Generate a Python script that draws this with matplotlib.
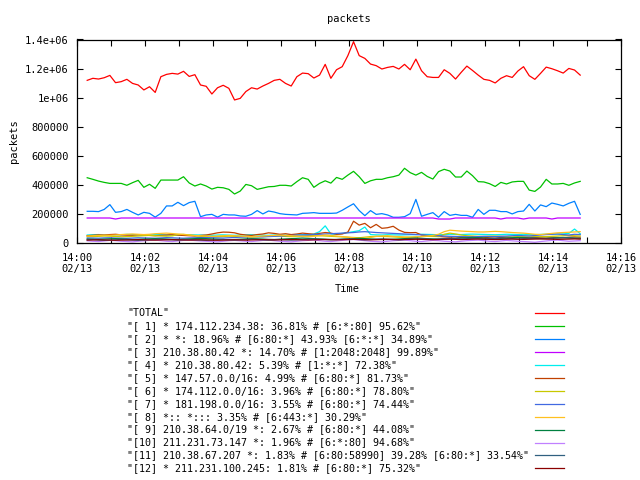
import matplotlib
matplotlib.use("Agg")
import matplotlib.pyplot as plt
import matplotlib.dates as mdates
from matplotlib.lines import Line2D
from matplotlib.ticker import FuncFormatter, MultipleLocator
import pandas as pd

plt.rcParams['font.family'] = ['DejaVu Sans Mono']

# sample times: every 10 s starting 14:00:18
times = pd.date_range("2000-02-13 14:00:18", periods=88, freq="10s")

labels = [
    '"TOTAL"',
    '"[ 1] * 174.112.234.38: 36.81% # [6:*:80] 95.62%"',
    '"[ 2] * *: 18.96% # [6:80:*] 43.93% [6:*:*] 34.89%"',
    '"[ 3] 210.38.80.42 *: 14.70% # [1:2048:2048] 99.89%"',
    '"[ 4] * 210.38.80.42: 5.39% # [1:*:*] 72.38%"',
    '"[ 5] * 147.57.0.0/16: 4.99% # [6:80:*] 81.73%"',
    '"[ 6] * 174.112.0.0/16: 3.96% # [6:80:*] 78.80%"',
    '"[ 7] * 181.198.0.0/16: 3.55% # [6:80:*] 74.44%"',
    '"[ 8] *:: *::: 3.35% # [6:443:*] 30.29%"',
    '"[ 9] 210.38.64.0/19 *: 2.67% # [6:80:*] 44.08%"',
    '"[10] 211.231.73.147 *: 1.96% # [6:*:80] 94.68%"',
    '"[11] 210.38.67.207 *: 1.83% # [6:80:58990] 39.28% [6:80:*] 33.54%"',
    '"[12] * 211.231.100.245: 1.81% # [6:80:*] 75.32%"',
]
colors = ["#ff0000", "#00c000", "#0080ff", "#c000ff", "#00eeee", "#c04000",
          "#c8c800", "#4169e1", "#ffc020", "#008040", "#c080ff", "#306080",
          "#8b0000"]

# values in thousands of packets
total = [1119, 1133, 1128, 1137, 1153, 1103, 1110, 1126, 1098, 1087, 1053,
         1075, 1036, 1144, 1160, 1167, 1162, 1181, 1146, 1158, 1087, 1078,
         1025, 1068, 1085, 1064, 984, 995, 1042, 1068, 1059, 1080, 1098,
         1119, 1126, 1098, 1080, 1144, 1169, 1165, 1135, 1155, 1229, 1133,
         1192, 1213, 1289, 1385, 1289, 1270, 1231, 1220, 1197, 1208, 1215,
         1197, 1229, 1192, 1265, 1185, 1144, 1139, 1139, 1192, 1167, 1128,
         1174, 1217, 1187, 1155, 1126, 1119, 1101, 1133, 1151, 1139, 1183,
         1213, 1151, 1126, 1167, 1210, 1199, 1185, 1169, 1201, 1190, 1155]
s1 = [449, 438, 426, 417, 410, 410, 410, 397, 415, 431, 383,
      404, 376, 433, 433, 433, 433, 456, 413, 392, 406, 392,
      371, 383, 380, 369, 337, 357, 403, 394, 369, 378, 387,
      389, 397, 397, 392, 422, 449, 438, 383, 410, 428, 412,
      451, 438, 467, 493, 456, 410, 428, 438, 438, 449, 456,
      467, 514, 484, 467, 486, 458, 440, 491, 507, 495, 454,
      454, 495, 463, 422, 420, 408, 389, 417, 406, 420, 424,
      424, 364, 355, 385, 438, 406, 406, 410, 397, 413, 424]
s2 = [218, 218, 216, 231, 264, 211, 216, 231, 211, 193, 211,
      204, 178, 204, 255, 255, 280, 257, 278, 287, 181, 193,
      197, 178, 197, 193, 193, 186, 184, 197, 223, 200, 220,
      213, 202, 197, 195, 193, 204, 206, 209, 204, 204, 204,
      206, 225, 248, 270, 223, 188, 223, 197, 202, 193, 177,
      177, 181, 202, 300, 184, 197, 209, 177, 216, 190, 197,
      190, 190, 177, 231, 197, 225, 225, 216, 216, 200, 216,
      220, 266, 220, 262, 250, 275, 266, 255, 273, 287, 197]
s3 = [172, 172, 172, 172, 172, 165, 172, 172, 172, 172, 172,
      172, 172, 172, 172, 172, 172, 172, 172, 172, 172, 172,
      172, 172, 172, 172, 172, 172, 172, 172, 172, 172, 172,
      172, 172, 172, 172, 172, 172, 172, 172, 172, 172, 172,
      172, 172, 172, 172, 172, 172, 172, 172, 172, 172, 172,
      172, 172, 172, 172, 172, 172, 172, 165, 165, 165, 172,
      172, 172, 172, 172, 172, 172, 172, 165, 172, 172, 172,
      165, 172, 172, 172, 172, 165, 172, 172, 172, 172, 172]
s4 = [55, 57, 58, 56, 55, 56, 57, 59, 58, 56, 55,
      56, 58, 57, 55, 56, 54, 55, 57, 56, 55, 54,
      53, 55, 56, 54, 53, 55, 56, 57, 55, 54, 53,
      55, 56, 54, 55, 56, 57, 58, 62, 78, 118, 62,
      60, 66, 72, 78, 85, 110, 58, 56, 55, 57, 56,
      55, 56, 57, 58, 60, 59, 58, 57, 58, 60, 59,
      58, 60, 61, 60, 59, 58, 57, 58, 60, 59, 58,
      60, 58, 57, 59, 60, 62, 61, 63, 66, 96, 64]
s5 = [50, 53, 56, 55, 58, 60, 56, 54, 53, 56, 55,
      52, 50, 53, 55, 57, 54, 52, 50, 48, 52, 55,
      62, 70, 75, 74, 70, 60, 55, 52, 58, 62, 70,
      66, 60, 64, 58, 62, 68, 64, 60, 66, 72, 68,
      60, 62, 75, 150, 123, 135, 105, 128, 101, 105, 115,
      89, 73, 71, 72, 55, 50, 48, 45, 42, 40, 42,
      38, 40, 42, 38, 36, 40, 42, 38, 35, 37, 40,
      38, 36, 38, 40, 42, 40, 38, 36, 40, 42, 40]
s6 = [45, 44, 46, 48, 47, 45, 43, 44, 46, 48, 50,
      52, 50, 48, 47, 49, 58, 60, 55, 50, 46, 44,
      42, 44, 45, 47, 46, 44, 42, 40, 42, 44, 46,
      48, 47, 45, 44, 46, 48, 50, 52, 50, 48, 46,
      44, 42, 40, 38, 36, 40, 44, 46, 45, 44, 42,
      40, 38, 40, 42, 44, 46, 45, 44, 60, 68, 62,
      55, 50, 48, 46, 45, 47, 48, 46, 44, 42, 44,
      46, 48, 45, 43, 44, 46, 48, 50, 52, 50, 48]
s7 = [35, 34, 33, 35, 36, 34, 33, 32, 34, 36, 35,
      34, 33, 35, 37, 36, 34, 33, 35, 36, 38, 37,
      36, 35, 34, 36, 38, 40, 42, 44, 43, 42, 44,
      46, 48, 50, 52, 54, 55, 56, 58, 60, 62, 64,
      66, 68, 70, 72, 76, 78, 75, 72, 70, 68, 66,
      64, 62, 60, 58, 56, 54, 52, 50, 48, 46, 45,
      44, 43, 42, 44, 46, 45, 44, 46, 48, 50, 52,
      50, 48, 52, 55, 58, 60, 62, 58, 55, 60, 58]
s8 = [48, 50, 52, 54, 53, 55, 58, 60, 62, 60, 58,
      60, 64, 66, 68, 65, 62, 58, 55, 52, 50, 48,
      46, 48, 50, 52, 50, 48, 46, 44, 46, 48, 50,
      52, 54, 52, 50, 48, 46, 44, 46, 50, 55, 52,
      48, 44, 40, 35, 30, 32, 38, 45, 48, 50, 46,
      44, 42, 40, 42, 45, 48, 52, 60, 78, 88, 85,
      82, 80, 78, 76, 76, 78, 80, 78, 75, 72, 70,
      68, 64, 60, 58, 62, 66, 70, 72, 74, 76, 78]
s9 = [28, 26, 25, 27, 29, 30, 28, 26, 24, 25, 27,
      28, 30, 29, 27, 25, 24, 26, 28, 30, 32, 30,
      28, 26, 24, 22, 24, 26, 28, 30, 29, 27, 25,
      24, 26, 28, 30, 32, 34, 32, 30, 28, 26, 25,
      24, 26, 28, 30, 32, 30, 28, 26, 25, 24, 26,
      28, 30, 32, 34, 32, 30, 28, 26, 28, 30, 32,
      34, 36, 38, 36, 34, 32, 30, 32, 34, 36, 38,
      36, 34, 32, 30, 32, 34, 36, 38, 36, 34, 32]
s10 = [15, 12, 10, 14, 18, 16, 12, 10, 8, 12, 15,
       18, 20, 16, 12, 10, 14, 18, 20, 17, 14, 12,
       10, 8, 12, 16, 18, 15, 12, 10, 14, 18, 20,
       16, 12, 10, 8, 12, 16, 18, 20, 16, 12, 10,
       14, 18, 22, 24, 20, 16, 12, 10, 8, 12, 16,
       18, 20, 16, 12, 10, 14, 18, 16, 12, 10, 8,
       12, 16, 18, 20, 16, 12, 10, 14, 18, 15, 12,
       10, 8, 5, 10, 14, 18, 20, 16, 12, 14, 16]
s11 = [22, 24, 20, 18, 20, 22, 24, 22, 20, 18, 20,
       22, 24, 26, 24, 22, 20, 22, 24, 22, 20, 18,
       20, 22, 24, 22, 20, 22, 24, 26, 24, 22, 20,
       22, 24, 22, 20, 22, 24, 26, 28, 26, 24, 22,
       24, 26, 28, 26, 24, 22, 24, 26, 28, 26, 24,
       22, 24, 26, 28, 30, 28, 26, 28, 30, 32, 30,
       28, 30, 32, 30, 28, 30, 32, 34, 32, 30, 28,
       30, 32, 34, 32, 30, 32, 34, 36, 34, 32, 30]
s12 = [20, 21, 22, 21, 20, 19, 20, 21, 22, 23, 22,
       21, 20, 21, 22, 23, 22, 21, 20, 21, 22, 21,
       20, 19, 20, 21, 22, 21, 20, 21, 22, 23, 22,
       21, 22, 23, 24, 23, 22, 21, 22, 23, 24, 23,
       22, 23, 24, 25, 24, 23, 22, 23, 24, 25, 24,
       23, 24, 25, 26, 25, 24, 23, 24, 25, 26, 25,
       24, 25, 26, 27, 26, 25, 24, 25, 26, 27, 26,
       25, 26, 27, 28, 27, 26, 25, 26, 27, 28, 27]

series = [total, s1, s2, s3, s4, s5, s6, s7, s8, s9, s10, s11, s12]

W, H = 640, 480
fig = plt.figure(figsize=(6.4, 4.8), dpi=100)
L, R, T, B = 77, 621, 39.5, 243
ax = fig.add_axes([L / W, 1 - B / H, (R - L) / W, (B - T) / H])

fs = 7.2
LW = 0.9
for vals, c in zip(series, colors):
    ax.plot(times, [v * 1000 for v in vals], color=c, lw=LW)

ax.set_ylim(0, 1.4e6)
ax.set_xlim(pd.Timestamp("2000-02-13 14:00"), pd.Timestamp("2000-02-13 14:16"))

ax.yaxis.set_major_locator(MultipleLocator(200000))


def yfmt(v, pos):
    if v == 0:
        return "0"
    if v >= 1e6:
        s = "%g" % (v / 1e6)
        return s + "e+06"
    return "%d" % v


ax.yaxis.set_major_formatter(FuncFormatter(yfmt))
ax.xaxis.set_major_locator(mdates.MinuteLocator(byminute=range(0, 60, 2)))
ax.xaxis.set_minor_locator(mdates.MinuteLocator(byminute=range(1, 60, 2)))
ax.xaxis.set_major_formatter(mdates.DateFormatter("%H:%M\n%m/%d"))

ax.tick_params(which='both', direction='in', top=True, right=True,
               length=4.5, width=0.8, labelsize=fs + 0.3, color='black')
ax.tick_params(axis='y', pad=6)
ax.tick_params(axis='x', pad=7)
for lab in ax.get_xticklabels():
    lab.set_linespacing(1.2)
for sp in ax.spines.values():
    sp.set_linewidth(0.9)

fig.text(349 / W, 1 - 19 / H, "packets", ha='center', va='center', fontsize=fs + 0.3)
fig.text(14 / W, 1 - 141 / H, "packets", ha='center', va='center',
         rotation=90, fontsize=fs + 0.3)
fig.text(347 / W, 1 - 289 / H, "Time", ha='center', va='center', fontsize=fs + 0.3)

# key below the plot
y0, pitch = 313.3, 12.92
for k, (lab, c) in enumerate(zip(labels, colors)):
    y = 1 - (y0 + k * pitch) / H
    fig.text(127 / W, y, lab, ha='left', va='center', fontsize=fs)
    fig.add_artist(Line2D([535 / W, 564 / W], [y, y], color=c, lw=LW,
                          transform=fig.transFigure))

fig.savefig("out.png", dpi=100)
